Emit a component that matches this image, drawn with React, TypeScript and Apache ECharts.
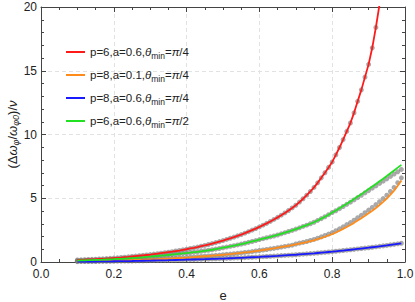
import React, { useEffect, useRef } from "react";
import * as echarts from "echarts";

const E = [
  0.10, 0.11, 0.12, 0.13, 0.14, 0.15, 0.16, 0.17, 0.18, 0.19,
  0.20, 0.21, 0.22, 0.23, 0.24, 0.25, 0.26, 0.27, 0.28, 0.29,
  0.30, 0.31, 0.32, 0.33, 0.34, 0.35, 0.36, 0.37, 0.38, 0.39,
  0.40, 0.41, 0.42, 0.43, 0.44, 0.45, 0.46, 0.47, 0.48, 0.49,
  0.50, 0.51, 0.52, 0.53, 0.54, 0.55, 0.56, 0.57, 0.58, 0.59,
  0.60, 0.61, 0.62, 0.63, 0.64, 0.65, 0.66, 0.67, 0.68, 0.69,
  0.70, 0.71, 0.72, 0.73, 0.74, 0.75, 0.76, 0.77, 0.78, 0.79,
  0.80, 0.81, 0.82, 0.83, 0.84, 0.85, 0.86, 0.87, 0.88, 0.89,
  0.90, 0.91, 0.92, 0.93, 0.94, 0.95, 0.96, 0.97, 0.98, 0.99,
];

const redLine = [
  0.16, 0.17, 0.18, 0.195, 0.21, 0.22, 0.24, 0.25, 0.27, 0.29,
  0.31, 0.33, 0.35, 0.38, 0.40, 0.43, 0.46, 0.49, 0.52, 0.55,
  0.58, 0.62, 0.65, 0.69, 0.73, 0.77, 0.81, 0.86, 0.90, 0.95,
  1.00, 1.06, 1.11, 1.17, 1.24, 1.30, 1.37, 1.44, 1.52, 1.60,
  1.68, 1.77, 1.86, 1.95, 2.05, 2.15, 2.26, 2.38, 2.50, 2.62,
  2.75, 2.89, 3.03, 3.18, 3.34, 3.50, 3.67, 3.85, 4.04, 4.24,
  4.45, 4.70, 4.96, 5.24, 5.53, 5.85, 6.21, 6.60, 7.00, 7.42,
  7.85, 8.40, 8.98, 9.60, 10.25, 10.9, 11.7, 12.6, 13.5, 14.5,
  15.5, 16.8, 18.4, 20.2, 22.3,
];

const orangeLine = [
  0.060, 0.064, 0.068, 0.072, 0.076, 0.080, 0.086, 0.092, 0.098, 0.104,
  0.110, 0.118, 0.126, 0.134, 0.142, 0.150, 0.160, 0.170, 0.180, 0.190,
  0.200, 0.210, 0.225, 0.240, 0.255, 0.270, 0.285, 0.300, 0.315, 0.330,
  0.350, 0.370, 0.390, 0.410, 0.430, 0.450, 0.470, 0.495, 0.520, 0.545,
  0.570, 0.600, 0.620, 0.650, 0.680, 0.710, 0.750, 0.780, 0.820, 0.860,
  0.900, 0.940, 0.980, 1.030, 1.070, 1.120, 1.170, 1.220, 1.270, 1.320,
  1.380, 1.440, 1.500, 1.560, 1.630, 1.700, 1.790, 1.880, 1.980, 2.080,
  2.180, 2.310, 2.450, 2.600, 2.750, 2.900, 3.070, 3.250, 3.430, 3.620,
  3.820, 4.020, 4.240, 4.470, 4.720, 4.980, 5.280, 5.600, 5.980, 6.400,
];

const blueLine = [
  0.030, 0.032, 0.034, 0.036, 0.038, 0.040, 0.044, 0.048, 0.052, 0.056,
  0.060, 0.064, 0.068, 0.072, 0.076, 0.080, 0.086, 0.092, 0.098, 0.104,
  0.110, 0.116, 0.122, 0.128, 0.134, 0.140, 0.148, 0.156, 0.164, 0.172,
  0.180, 0.188, 0.196, 0.204, 0.212, 0.220, 0.230, 0.240, 0.250, 0.260,
  0.270, 0.282, 0.294, 0.306, 0.318, 0.330, 0.344, 0.358, 0.372, 0.386,
  0.400, 0.416, 0.432, 0.448, 0.464, 0.480, 0.498, 0.516, 0.534, 0.552,
  0.570, 0.592, 0.614, 0.636, 0.658, 0.680, 0.706, 0.732, 0.758, 0.784,
  0.810, 0.840, 0.870, 0.900, 0.930, 0.960, 0.992, 1.024, 1.056, 1.088,
  1.120, 1.156, 1.192, 1.228, 1.264, 1.300, 1.342, 1.384, 1.426, 1.468,
];

const greenLine = [
  0.11, 0.12, 0.13, 0.14, 0.15, 0.16, 0.17, 0.18, 0.195, 0.21,
  0.22, 0.24, 0.25, 0.27, 0.29, 0.31, 0.33, 0.35, 0.37, 0.40,
  0.42, 0.45, 0.47, 0.50, 0.52, 0.55, 0.58, 0.61, 0.64, 0.67,
  0.70, 0.73, 0.77, 0.80, 0.84, 0.88, 0.92, 0.96, 1.01, 1.06,
  1.12, 1.17, 1.23, 1.28, 1.34, 1.40, 1.47, 1.54, 1.61, 1.68,
  1.76, 1.83, 1.90, 1.97, 2.04, 2.12, 2.21, 2.30, 2.39, 2.48,
  2.58, 2.68, 2.79, 2.89, 3.00, 3.12, 3.26, 3.40, 3.55, 3.71,
  3.88, 4.04, 4.21, 4.39, 4.57, 4.75, 4.94, 5.13, 5.32, 5.52,
  5.72, 5.92, 6.12, 6.33, 6.53, 6.74, 6.96, 7.18, 7.40, 7.62,
];

// numerical points (gray dots); where they differ from the curves
const greenDotsHigh = [
  4.02, 4.18, 4.35, 4.52, 4.69, 4.87, 5.05, 5.23, 5.42, 5.60,
  5.79, 5.97, 6.16, 6.34, 6.52, 6.71, 6.90, 7.08, 7.26,
]; // e = 0.81 .. 0.99
const orangeDotsHigh = [
  1.41, 1.48, 1.54, 1.61, 1.69, 1.77, 1.87, 1.97, 2.08, 2.19,
  2.31, 2.45, 2.60, 2.76, 2.93, 3.09, 3.28, 3.47, 3.66, 3.86,
  4.07, 4.28, 4.50, 4.73, 4.97, 5.24, 5.53, 5.85, 6.22, 6.60,
]; // e = 0.70 .. 0.99

const redDots = redLine;
const blueDots = blueLine;
const greenDots = [...greenLine.slice(0, 71), ...greenDotsHigh];
const orangeDots = [...orangeLine.slice(0, 60), ...orangeDotsHigh];

const names = [
  "p=6,a=0.6,pi4",
  "p=8,a=0.1,pi4",
  "p=8,a=0.6,pi4",
  "p=6,a=0.6,pi2",
];
const legendLabels: Record<string, [string, string]> = {
  "p=6,a=0.6,pi4": ["p=6,a=0.6,", "4"],
  "p=8,a=0.1,pi4": ["p=8,a=0.1,", "4"],
  "p=8,a=0.6,pi4": ["p=8,a=0.6,", "4"],
  "p=6,a=0.6,pi2": ["p=6,a=0.6,", "2"],
};
const colors = ["#ff1a1a", "#ff8c1a", "#1a1aff", "#22e022"];
const lines = [redLine, orangeLine, blueLine, greenLine];
const dots = [redDots, orangeDots, blueDots, greenDots];

const pairs = (ys: number[]) => ys.map((y, i) => [E[i], y]);

export default function App() {
  const ref = useRef<HTMLDivElement>(null);
  useEffect(() => {
    document.body.style.margin = "0";
    if (!ref.current) return;
    const chart = echarts.init(ref.current, null, { renderer: "svg" });
    const font = "Liberation Sans, Arial, sans-serif";
    const frameColor = "#444";
    const axisCommon = {
      type: "value" as const,
      axisLine: { show: true, onZero: false, lineStyle: { color: frameColor, width: 1 } },
      axisTick: { show: true, inside: true, length: 5, lineStyle: { color: frameColor } },
      minorTick: { show: true, length: 3, lineStyle: { color: frameColor } },
    };
    const series: any[] = [];
    dots.forEach((d, i) => {
      series.push({
        name: "dots" + i,
        type: "scatter",
        data: pairs(d),
        symbolSize: 5,
        itemStyle: { color: "rgba(120,120,120,0.8)" },
        z: 1,
        clip: true,
        silent: true,
      });
    });
    lines.forEach((d, i) => {
      series.push({
        name: names[i],
        type: "line",
        data: pairs(d),
        showSymbol: false,
        symbol: "none",
        lineStyle: { color: colors[i], width: 1.8 },
        itemStyle: { color: colors[i] },
        z: 3,
        clip: true,
      });
    });
    const option: any = {
      animation: false,
      textStyle: { fontFamily: font },
      grid: { left: 41, right: 10, top: 7, bottom: 40, outerBoundsMode: "none", containLabel: false },
      legend: {
        data: names.map((n) => ({ name: n, icon: "rect" })),
        orient: "vertical",
        left: 61,
        top: 41,
        itemWidth: 19,
        itemHeight: 2,
        itemGap: 9,
        itemStyle: { borderWidth: 0 },
        formatter: (n: string) => {
          const [a, b] = legendLabels[n];
          return `{n|${a}}{i|θ}{s|min}{n|=}{i|π}{n|/${b}}`;
        },
        textStyle: {
          fontFamily: font,
          color: "#222",
          rich: {
            n: { fontSize: 11.5, color: "#222", fontFamily: font, lineHeight: 16, verticalAlign: "middle" },
            i: { fontSize: 11.5, color: "#222", fontFamily: font, fontStyle: "italic", lineHeight: 16, verticalAlign: "middle" },
            s: { fontSize: 8.5, color: "#222", fontFamily: font, lineHeight: 8, verticalAlign: "bottom" },
          },
        },
      },
      xAxis: [
        {
          ...axisCommon,
          position: "bottom",
          min: 0,
          max: 1,
          interval: 0.2,
          minorTick: { ...axisCommon.minorTick, splitNumber: 4 },
          axisLabel: {
            formatter: (v: number) => v.toFixed(1),
            fontSize: 12,
            color: "#222",
            margin: 6,
            fontFamily: font,
          },
          splitLine: { show: true, lineStyle: { color: "#e2e2e2", type: [4, 3], width: 1 } },
          name: "e",
          nameLocation: "middle",
          nameGap: 27,
          nameMoveOverlap: false,
          nameTextStyle: { fontSize: 13, color: "#222", fontFamily: font },
        },
        {
          ...axisCommon,
          position: "top",
          min: 0,
          max: 1,
          interval: 0.2,
          minorTick: { ...axisCommon.minorTick, splitNumber: 4 },
          axisLabel: { show: false },
          splitLine: { show: false },
        },
      ],
      yAxis: [
        {
          ...axisCommon,
          position: "left",
          min: 0,
          max: 20,
          interval: 5,
          minorTick: { ...axisCommon.minorTick, splitNumber: 5 },
          axisLabel: { fontSize: 12, color: "#222", margin: 4, fontFamily: font },
          splitLine: { show: true, lineStyle: { color: "#e2e2e2", type: [4, 3], width: 1 } },
          name: "{n|(Δ}{i|ω}{s|φ}{n|/}{i|ω}{s|φ0}{n|)/}{i|ν}",
          nameLocation: "middle",
          nameRotate: 90,
          nameGap: 21,
          nameMoveOverlap: false,
          nameTextStyle: {
            fontFamily: font,
            rich: {
              n: { fontSize: 13, color: "#222", fontFamily: font, lineHeight: 16, verticalAlign: "middle" },
              i: { fontSize: 13, color: "#222", fontFamily: font, fontStyle: "italic", lineHeight: 16, verticalAlign: "middle" },
              s: { fontSize: 9, color: "#222", fontFamily: font, fontStyle: "italic", lineHeight: 9, verticalAlign: "bottom" },
            },
          },
        },
        {
          ...axisCommon,
          position: "right",
          min: 0,
          max: 20,
          interval: 5,
          minorTick: { ...axisCommon.minorTick, splitNumber: 5 },
          axisLabel: { show: false },
          splitLine: { show: false },
        },
      ],
      series,
    };
    chart.setOption(option);
    return () => chart.dispose();
  }, []);
  return <div ref={ref} style={{ width: 415, height: 302 }} />;
}
